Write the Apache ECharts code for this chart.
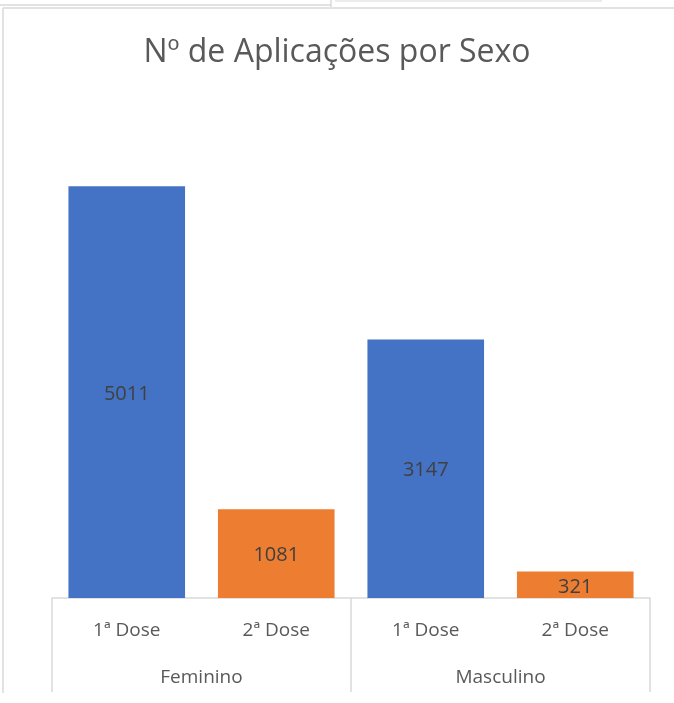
<!DOCTYPE html>
<html lang="pt">
<head>
    <meta charset="UTF-8">
    <title>Nº de Aplicações por Sexo</title>
    <script src="https://cdn.jsdelivr.net/npm/echarts@6/dist/echarts.min.js"></script>
    <style>
        *{ margin: 0; padding: 0; }
        body{ background-color: #fff; overflow: hidden; }
    </style>
</head>
<body>
<div id="main" style="width:674px;height:703px;"></div>

<script>
    // dados
    var groups = ['Feminino', 'Masculino'];
    var doses = ['1ª Dose', '2ª Dose', '1ª Dose', '2ª Dose'];
    var values = [5011, 1081, 3147, 321];
    var doseColors = {'1ª Dose': '#4472C4', '2ª Dose': '#ED7D31'};

    var font = 'Open Sans';
    var gray = '#d9d9d9';

    var myChart = echarts.init(document.getElementById('main'));

    var barData = values.map(function (v, i) {
        return {value: v, itemStyle: {color: doseColors[doses[i]]}};
    });

    var option = {
        backgroundColor: '#fff',
        title: {
            text: 'Nº de Aplicações por Sexo',
            left: 'center',
            top: 32,
            textStyle: {
                color: '#595959',
                fontSize: 32,
                fontWeight: 'normal',
                fontFamily: font
            }
        },
        grid: {left: 52, right: 24, top: 105, bottom: 105},
        xAxis: [
            {
                type: 'category',
                data: doses,
                position: 'bottom',
                axisLine: {lineStyle: {color: gray, width: 1.5}},
                axisTick: {show: false},
                axisLabel: {
                    interval: 0,
                    color: '#595959',
                    fontSize: 19,
                    fontFamily: font,
                    margin: 23
                }
            },
            {
                type: 'category',
                data: groups,
                position: 'bottom',
                offset: 94,
                axisLine: {show: false},
                axisTick: {
                    show: true,
                    inside: true,
                    length: 94,
                    interval: 0,
                    lineStyle: {color: gray, width: 1.5}
                },
                axisLabel: {
                    inside: true,
                    interval: 0,
                    color: '#595959',
                    fontSize: 19,
                    fontFamily: font,
                    margin: 5
                }
            }
        ],
        yAxis: {
            type: 'value',
            min: 0,
            max: 6000,
            show: false,
            splitLine: {show: false}
        },
        series: [
            {
                type: 'bar',
                xAxisIndex: 0,
                data: barData,
                barCategoryGap: '22%',
                label: {
                    show: true,
                    position: 'inside',
                    offset: [0, 2],
                    color: '#404040',
                    fontSize: 20,
                    fontFamily: font
                },
                animation: false
            }
        ],
        graphic: [
            // moldura da folha
            {type: 'line', shape: {x1: 3, y1: 8, x2: 3, y2: 693}, style: {stroke: gray, lineWidth: 1.5}},
            {type: 'line', shape: {x1: 3, y1: 8, x2: 674, y2: 8}, style: {stroke: gray, lineWidth: 1.5}},
            {type: 'line', shape: {x1: 0, y1: 5, x2: 331, y2: 5}, style: {stroke: gray, lineWidth: 1.5}},
            {type: 'line', shape: {x1: 331, y1: 0, x2: 331, y2: 7}, style: {stroke: gray, lineWidth: 1.5}},
            {type: 'line', shape: {x1: 335, y1: 1, x2: 602, y2: 1}, style: {stroke: gray, lineWidth: 1}}
        ]
    };

    myChart.setOption(option);
    window.onresize = myChart.resize;
</script>
</body>
</html>
